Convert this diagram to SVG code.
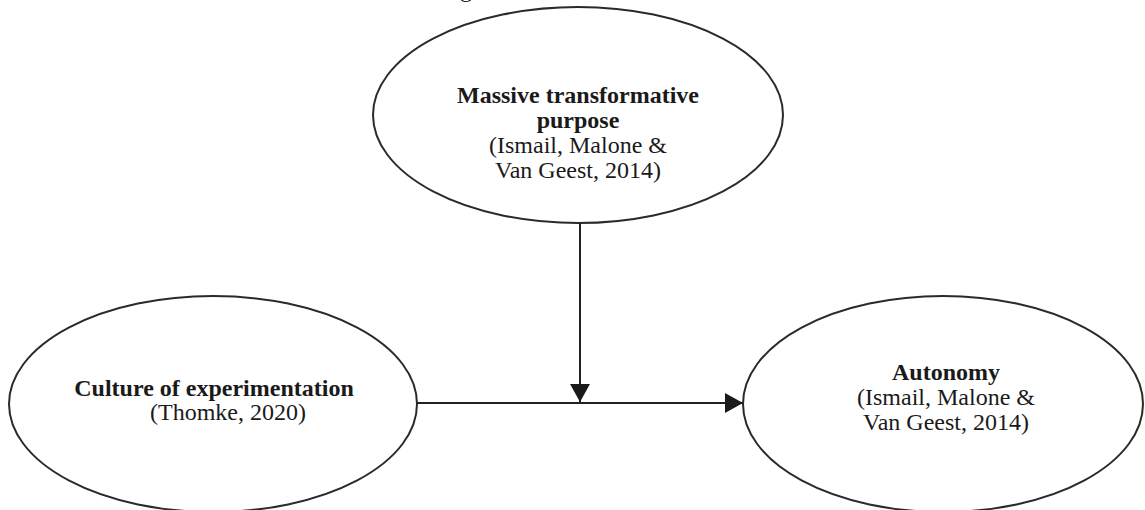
<svg xmlns="http://www.w3.org/2000/svg" width="1145" height="510" viewBox="0 0 1145 510">
<style>
.node ellipse{fill:#ffffff;stroke:#2a2a2a;stroke-width:2}
.t{font-family:"Liberation Serif","Times New Roman",serif;font-size:24px;fill:#1a1a1a;text-anchor:middle}
.b{font-weight:bold}
.conn line{stroke:#222222;stroke-width:2;fill:none}
</style>
<defs>
<marker id="arr" viewBox="0 0 18 20" refX="18" refY="10" markerWidth="18" markerHeight="20" markerUnits="userSpaceOnUse" orient="auto">
<path d="M0,0 L18,10 L0,20 Z" fill="#1a1a1a"/>
</marker>
</defs>
<rect width="1145" height="510" fill="#ffffff"/>
<text class="t" x="466" y="-3">g</text>
<g id="node-mtp" class="node">
<ellipse cx="578" cy="115" rx="205" ry="108"/>
<text class="t b" x="578" y="103">Massive transformative</text>
<text class="t b" x="578" y="128">purpose</text>
<text class="t" x="578" y="153">(Ismail, Malone &amp;</text>
<text class="t" x="578" y="178">Van Geest, 2014)</text>
</g>
<g id="node-culture" class="node">
<ellipse cx="213" cy="404" rx="204" ry="108"/>
<text class="t b" x="214" y="396">Culture of experimentation</text>
<text class="t" x="228" y="420">(Thomke, 2020)</text>
</g>
<g id="node-autonomy" class="node">
<ellipse cx="943" cy="404" rx="200" ry="108"/>
<text class="t b" x="946" y="380">Autonomy</text>
<text class="t" x="946" y="405">(Ismail, Malone &amp;</text>
<text class="t" x="946" y="430">Van Geest, 2014)</text>
</g>
<g id="connectors" class="conn">
<line x1="417" y1="403" x2="743" y2="403" marker-end="url(#arr)"/>
<line x1="580" y1="223" x2="580" y2="402" marker-end="url(#arr)"/>
</g>
</svg>
